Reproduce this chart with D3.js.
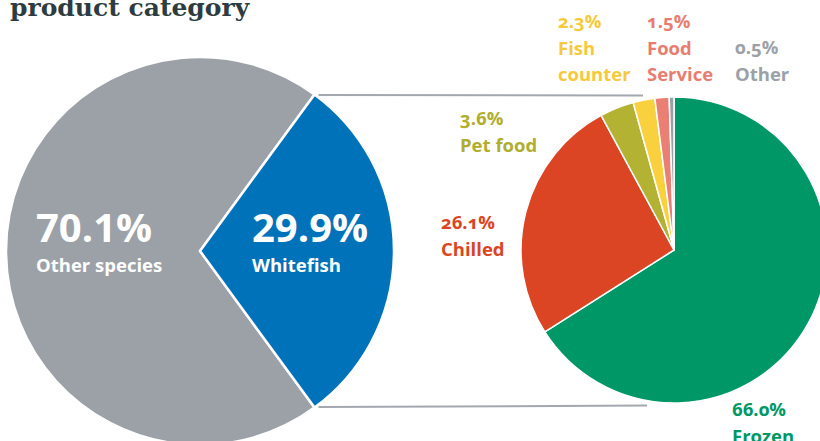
<!DOCTYPE html>
<html><head><meta charset="utf-8">
<script src="https://cdn.jsdelivr.net/npm/d3@7"></script>
<style>
html,body{margin:0;padding:0;background:#fff;overflow:hidden}
svg{display:block}
.lbl{font-family:"Open Sans",sans-serif;font-weight:700}
.onum{font-variant-numeric:oldstyle-nums;font-feature-settings:"onum" 1}
</style></head>
<body><svg id="c" width="820" height="441"></svg>
<script>
// ---- data ----
const title = "product category";
const speciesCategories = ["Other species", "Whitefish"];
const speciesValues = [70.1, 29.9];
const speciesColors = ["#9ca1a8", "#0072b9"];

const productCategories = ["Frozen", "Chilled", "Pet food", "Fish counter", "Food Service", "Other"];
const productValues = [66.0, 26.1, 3.6, 2.3, 1.5, 0.5];
const productColors = ["#009767", "#dc4523", "#b3b233", "#f9d13e", "#e98073", "#9aa0a8"];
const productTextColors = ["#009767", "#dc4523", "#afae2e", "#f6c93c", "#e77d70", "#9ca1a8"];
const productLabelLines = [["Frozen"], ["Chilled"], ["Pet food"], ["Fish", "counter"], ["Food", "Service"], ["Other"]];

// ---- layout ----
const svg = d3.select("#c");
const L = {cx: 200, cy: 251, r: 194};
const R = {cx: 674, cy: 250, r: 153};

svg.append("text").attr("x", 10).attr("y", 15.5)
  .attr("font-family", "DejaVu Serif, serif").attr("font-weight", 700)
  .attr("font-size", 25).attr("fill", "#2c3c40").text(title);

// left pie: whitefish centred pointing right
const wfFrac = speciesValues[1] / d3.sum(speciesValues);
const leftStart = Math.PI / 2 + wfFrac * Math.PI;
const pieL = d3.pie().sort(null).value(d => d)
  .startAngle(leftStart).endAngle(leftStart + 2 * Math.PI);
const arcsL = pieL(speciesValues);
const arcL = d3.arc().innerRadius(0).outerRadius(L.r);
const gL = svg.append("g").attr("transform", `translate(${L.cx},${L.cy})`);
gL.selectAll("path").data(arcsL).join("path")
  .attr("d", arcL).attr("fill", (d, i) => speciesColors[i])
  .attr("stroke", "#fff").attr("stroke-width", 2.5).attr("stroke-linejoin", "round");

// right pie
const pieR = d3.pie().sort(null).value(d => d);
const arcsR = pieR(productValues);
const arcR = d3.arc().innerRadius(0).outerRadius(R.r);
const gR = svg.append("g").attr("transform", `translate(${R.cx},${R.cy})`);
gR.selectAll("path").data(arcsR).join("path")
  .attr("d", arcR).attr("fill", (d, i) => productColors[i])
  .attr("stroke", "#fff").attr("stroke-width", 1.5).attr("stroke-linejoin", "round");

// connector lines from whitefish slice edges to right pie
const wf = arcsL[1];
const pt = (c, r, a) => [c.cx + r * Math.sin(a), c.cy - r * Math.cos(a)];
const topStart = pt(L, L.r, wf.startAngle - 2 * Math.PI);
const botStart = pt(L, L.r, wf.endAngle - 2 * Math.PI);
const conn = [
  [[topStart[0] + 4, topStart[1] + 0.5], [R.cx - 31, R.cy - R.r - 1.5]],
  [[botStart[0] + 4, botStart[1] - 0.5], [R.cx - 27, R.cy + R.r + 2.5]]
];
svg.selectAll("line.conn").data(conn).join("line").attr("class", "conn")
  .attr("x1", d => d[0][0]).attr("y1", d => d[0][1])
  .attr("x2", d => d[1][0]).attr("y2", d => d[1][1])
  .attr("stroke", "#a3a8ae").attr("stroke-width", 2);

// left labels
const leftLabelPos = [[36, 242], [252, 242]];
speciesCategories.forEach((c, i) => {
  const t = svg.append("text").attr("class", "lbl").attr("fill", "#fff")
    .attr("x", leftLabelPos[i][0]).attr("y", leftLabelPos[i][1]);
  t.append("tspan").attr("font-size", 40).text(speciesValues[i].toFixed(1) + "%");
  t.append("tspan").attr("x", leftLabelPos[i][0]).attr("dy", 30).attr("font-size", 18.5).text(c);
});

// right labels
const rightLabelPos = [[732, 416], [441, 229], [460, 125], [558, 28], [647, 28], [735, 54]];
productCategories.forEach((c, i) => {
  const [x, y] = rightLabelPos[i];
  const g = svg.append("text").attr("class", "lbl").attr("fill", productTextColors[i])
    .attr("x", x).attr("y", y).attr("font-size", 18.5);
  g.append("tspan").attr("class", "onum").text(productValues[i].toFixed(1) + "%");
  productLabelLines[i].forEach(line => {
    g.append("tspan").attr("x", x).attr("dy", 26.5).text(line);
  });
});
</script>
</body></html>
